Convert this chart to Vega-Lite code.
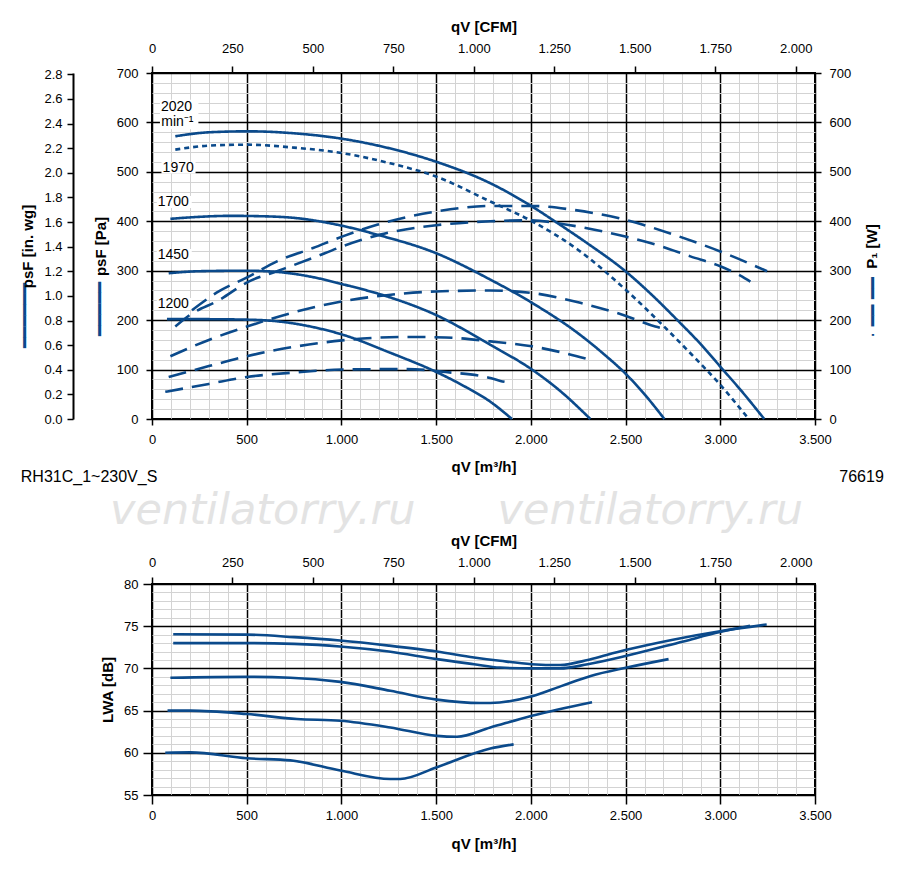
{
  "$schema": "https://vega.github.io/schema/vega-lite/v6.json",
  "description": "Fan curves RH31C: static pressure, power input and sound power level over air flow.",
  "padding": {"left": 15, "top": 18, "right": 5, "bottom": 5},
  "spacing": 4,
  "config": {
    "font": "Liberation Sans",
    "view": {"stroke": "#000", "strokeWidth": 2},
    "axis": {
      "labelFont": "Liberation Sans", "labelFontSize": 13, "labelColor": "#000",
      "titleFont": "Liberation Sans", "titleFontSize": 15, "titleColor": "#000", "titleFontWeight": "bold",
      "tickColor": "#000", "tickWidth": 1.5, "domainColor": "#000", "domainWidth": 2,
      "labelFlush": false, "labelOverlap": false
    },
    "line": {"color": "#0b4a8b", "strokeWidth": 2.6, "interpolate": "monotone"},
    "title": {"font": "DejaVu Sans"}
  },
  "datasets": {
    "pressure": [
      {"rpm": "2020", "s": "solid", "q": 123, "p": 572}, {"rpm": "2020", "s": "solid", "q": 300, "p": 580},
      {"rpm": "2020", "s": "solid", "q": 508, "p": 582}, {"rpm": "2020", "s": "solid", "q": 750, "p": 578},
      {"rpm": "2020", "s": "solid", "q": 1003, "p": 567}, {"rpm": "2020", "s": "solid", "q": 1250, "p": 548},
      {"rpm": "2020", "s": "solid", "q": 1496, "p": 521}, {"rpm": "2020", "s": "solid", "q": 1786, "p": 477},
      {"rpm": "2020", "s": "solid", "q": 2006, "p": 430}, {"rpm": "2020", "s": "solid", "q": 2138, "p": 397},
      {"rpm": "2020", "s": "solid", "q": 2300, "p": 355}, {"rpm": "2020", "s": "solid", "q": 2499, "p": 299},
      {"rpm": "2020", "s": "solid", "q": 2650, "p": 247}, {"rpm": "2020", "s": "solid", "q": 2771, "p": 201},
      {"rpm": "2020", "s": "solid", "q": 2900, "p": 150}, {"rpm": "2020", "s": "solid", "q": 3000, "p": 106},
      {"rpm": "2020", "s": "solid", "q": 3120, "p": 53}, {"rpm": "2020", "s": "solid", "q": 3232, "p": 0},
      {"rpm": "1970", "s": "dotted", "q": 123, "p": 545}, {"rpm": "1970", "s": "dotted", "q": 300, "p": 553},
      {"rpm": "1970", "s": "dotted", "q": 501, "p": 555}, {"rpm": "1970", "s": "dotted", "q": 750, "p": 549},
      {"rpm": "1970", "s": "dotted", "q": 1003, "p": 538}, {"rpm": "1970", "s": "dotted", "q": 1250, "p": 518},
      {"rpm": "1970", "s": "dotted", "q": 1496, "p": 491}, {"rpm": "1970", "s": "dotted", "q": 1786, "p": 440},
      {"rpm": "1970", "s": "dotted", "q": 2006, "p": 400}, {"rpm": "1970", "s": "dotted", "q": 2250, "p": 342},
      {"rpm": "1970", "s": "dotted", "q": 2499, "p": 262}, {"rpm": "1970", "s": "dotted", "q": 2719, "p": 181},
      {"rpm": "1970", "s": "dotted", "q": 2850, "p": 130}, {"rpm": "1970", "s": "dotted", "q": 2991, "p": 73},
      {"rpm": "1970", "s": "dotted", "q": 3150, "p": 0},
      {"rpm": "1700", "s": "solid", "q": 97, "p": 405}, {"rpm": "1700", "s": "solid", "q": 250, "p": 409},
      {"rpm": "1700", "s": "solid", "q": 413, "p": 411}, {"rpm": "1700", "s": "solid", "q": 600, "p": 410},
      {"rpm": "1700", "s": "solid", "q": 747, "p": 407}, {"rpm": "1700", "s": "solid", "q": 1003, "p": 391},
      {"rpm": "1700", "s": "solid", "q": 1188, "p": 373}, {"rpm": "1700", "s": "solid", "q": 1496, "p": 336},
      {"rpm": "1700", "s": "solid", "q": 1786, "p": 282}, {"rpm": "1700", "s": "solid", "q": 2006, "p": 235},
      {"rpm": "1700", "s": "solid", "q": 2261, "p": 170}, {"rpm": "1700", "s": "solid", "q": 2380, "p": 133},
      {"rpm": "1700", "s": "solid", "q": 2499, "p": 92},
      {"rpm": "1700", "s": "solid", "q": 2600, "p": 50}, {"rpm": "1700", "s": "solid", "q": 2705, "p": 0},
      {"rpm": "1450", "s": "solid", "q": 88, "p": 295}, {"rpm": "1450", "s": "solid", "q": 250, "p": 299},
      {"rpm": "1450", "s": "solid", "q": 501, "p": 300}, {"rpm": "1450", "s": "solid", "q": 677, "p": 297},
      {"rpm": "1450", "s": "solid", "q": 850, "p": 287}, {"rpm": "1450", "s": "solid", "q": 1003, "p": 273},
      {"rpm": "1450", "s": "solid", "q": 1241, "p": 248}, {"rpm": "1450", "s": "solid", "q": 1496, "p": 211},
      {"rpm": "1450", "s": "solid", "q": 1786, "p": 150}, {"rpm": "1450", "s": "solid", "q": 2006, "p": 100},
      {"rpm": "1450", "s": "solid", "q": 2160, "p": 55}, {"rpm": "1450", "s": "solid", "q": 2314, "p": 0},
      {"rpm": "1200", "s": "solid", "q": 79, "p": 202}, {"rpm": "1200", "s": "solid", "q": 250, "p": 202},
      {"rpm": "1200", "s": "solid", "q": 501, "p": 201}, {"rpm": "1200", "s": "solid", "q": 677, "p": 197},
      {"rpm": "1200", "s": "solid", "q": 850, "p": 186}, {"rpm": "1200", "s": "solid", "q": 1003, "p": 171},
      {"rpm": "1200", "s": "solid", "q": 1258, "p": 134}, {"rpm": "1200", "s": "solid", "q": 1496, "p": 96},
      {"rpm": "1200", "s": "solid", "q": 1650, "p": 66}, {"rpm": "1200", "s": "solid", "q": 1786, "p": 35},
      {"rpm": "1200", "s": "solid", "q": 1900, "p": 0}
    ],
    "power": [
      {"rpm": "2020", "q": 211, "w": 220}, {"rpm": "2020", "q": 343, "w": 256}, {"rpm": "2020", "q": 510, "w": 288},
      {"rpm": "2020", "q": 660, "w": 319}, {"rpm": "2020", "q": 850, "w": 346}, {"rpm": "2020", "q": 1003, "w": 369},
      {"rpm": "2020", "q": 1188, "w": 393}, {"rpm": "2020", "q": 1504, "w": 420}, {"rpm": "2020", "q": 1786, "w": 431},
      {"rpm": "2020", "q": 2006, "w": 431}, {"rpm": "2020", "q": 2226, "w": 423}, {"rpm": "2020", "q": 2499, "w": 403},
      {"rpm": "2020", "q": 2754, "w": 373}, {"rpm": "2020", "q": 3000, "w": 339}, {"rpm": "2020", "q": 3247, "w": 299},
      {"rpm": "1970", "q": 123, "w": 187}, {"rpm": "1970", "q": 202, "w": 211}, {"rpm": "1970", "q": 352, "w": 240},
      {"rpm": "1970", "q": 510, "w": 278}, {"rpm": "1970", "q": 660, "w": 299}, {"rpm": "1970", "q": 850, "w": 326},
      {"rpm": "1970", "q": 1003, "w": 349}, {"rpm": "1970", "q": 1205, "w": 373}, {"rpm": "1970", "q": 1500, "w": 392},
      {"rpm": "1970", "q": 1786, "w": 400}, {"rpm": "1970", "q": 1997, "w": 402}, {"rpm": "1970", "q": 2191, "w": 393},
      {"rpm": "1970", "q": 2499, "w": 369}, {"rpm": "1970", "q": 2683, "w": 350}, {"rpm": "1970", "q": 2842, "w": 329},
      {"rpm": "1970", "q": 3000, "w": 309}, {"rpm": "1970", "q": 3106, "w": 290}, {"rpm": "1970", "q": 3159, "w": 278},
      {"rpm": "1700", "q": 97, "w": 127}, {"rpm": "1700", "q": 300, "w": 160}, {"rpm": "1700", "q": 501, "w": 187},
      {"rpm": "1700", "q": 750, "w": 216}, {"rpm": "1700", "q": 1003, "w": 238}, {"rpm": "1700", "q": 1250, "w": 251},
      {"rpm": "1700", "q": 1496, "w": 258}, {"rpm": "1700", "q": 1786, "w": 260}, {"rpm": "1700", "q": 2006, "w": 255},
      {"rpm": "1700", "q": 2261, "w": 235}, {"rpm": "1700", "q": 2499, "w": 209}, {"rpm": "1700", "q": 2657, "w": 187},
      {"rpm": "1700", "q": 2719, "w": 181},
      {"rpm": "1450", "q": 88, "w": 85}, {"rpm": "1450", "q": 300, "w": 107}, {"rpm": "1450", "q": 501, "w": 127},
      {"rpm": "1450", "q": 750, "w": 146}, {"rpm": "1450", "q": 1003, "w": 159}, {"rpm": "1450", "q": 1346, "w": 166},
      {"rpm": "1450", "q": 1550, "w": 165}, {"rpm": "1450", "q": 1786, "w": 157}, {"rpm": "1450", "q": 2006, "w": 147},
      {"rpm": "1450", "q": 2160, "w": 135}, {"rpm": "1450", "q": 2314, "w": 120},
      {"rpm": "1200", "q": 70, "w": 55}, {"rpm": "1200", "q": 300, "w": 71}, {"rpm": "1200", "q": 501, "w": 85},
      {"rpm": "1200", "q": 750, "w": 94}, {"rpm": "1200", "q": 1003, "w": 100}, {"rpm": "1200", "q": 1346, "w": 101},
      {"rpm": "1200", "q": 1550, "w": 95}, {"rpm": "1200", "q": 1786, "w": 83}, {"rpm": "1200", "q": 1839, "w": 77},
      {"rpm": "1200", "q": 1900, "w": 73}
    ],
    "sound": [
      {"rpm": "2020", "q": 112, "L": 74.05}, {"rpm": "2020", "q": 500, "L": 74.0}, {"rpm": "2020", "q": 750, "L": 73.7},
      {"rpm": "2020", "q": 992, "L": 73.3}, {"rpm": "2020", "q": 1250, "L": 72.7}, {"rpm": "2020", "q": 1503, "L": 72.0},
      {"rpm": "2020", "q": 1700, "L": 71.3}, {"rpm": "2020", "q": 1837, "L": 70.9}, {"rpm": "2020", "q": 2004, "L": 70.5},
      {"rpm": "2020", "q": 2154, "L": 70.4}, {"rpm": "2020", "q": 2300, "L": 71.0}, {"rpm": "2020", "q": 2400, "L": 71.6},
      {"rpm": "2020", "q": 2505, "L": 72.2}, {"rpm": "2020", "q": 2750, "L": 73.4}, {"rpm": "2020", "q": 2998, "L": 74.4},
      {"rpm": "2020", "q": 3245, "L": 75.2},
      {"rpm": "1970", "q": 112, "L": 73.0}, {"rpm": "1970", "q": 500, "L": 73.0}, {"rpm": "1970", "q": 750, "L": 72.9},
      {"rpm": "1970", "q": 992, "L": 72.6}, {"rpm": "1970", "q": 1250, "L": 72.0}, {"rpm": "1970", "q": 1503, "L": 71.1},
      {"rpm": "1970", "q": 1700, "L": 70.5}, {"rpm": "1970", "q": 1837, "L": 70.1}, {"rpm": "1970", "q": 2004, "L": 70.0},
      {"rpm": "1970", "q": 2154, "L": 70.0}, {"rpm": "1970", "q": 2300, "L": 70.5}, {"rpm": "1970", "q": 2505, "L": 71.5},
      {"rpm": "1970", "q": 2805, "L": 73.2}, {"rpm": "1970", "q": 2998, "L": 74.3}, {"rpm": "1970", "q": 3157, "L": 75.05},
      {"rpm": "1700", "q": 97, "L": 68.9}, {"rpm": "1700", "q": 501, "L": 69.0}, {"rpm": "1700", "q": 730, "L": 68.9},
      {"rpm": "1700", "q": 994, "L": 68.4}, {"rpm": "1700", "q": 1258, "L": 67.35}, {"rpm": "1700", "q": 1504, "L": 66.3},
      {"rpm": "1700", "q": 1733, "L": 65.9}, {"rpm": "1700", "q": 1786, "L": 65.9}, {"rpm": "1700", "q": 2006, "L": 66.7},
      {"rpm": "1700", "q": 2160, "L": 67.9}, {"rpm": "1700", "q": 2316, "L": 69.1}, {"rpm": "1700", "q": 2507, "L": 70.1},
      {"rpm": "1700", "q": 2727, "L": 71.1},
      {"rpm": "1450", "q": 82, "L": 65.0}, {"rpm": "1450", "q": 202, "L": 65.0}, {"rpm": "1450", "q": 501, "L": 64.6},
      {"rpm": "1450", "q": 765, "L": 64.0}, {"rpm": "1450", "q": 994, "L": 63.8}, {"rpm": "1450", "q": 1258, "L": 63.0},
      {"rpm": "1450", "q": 1504, "L": 62.0}, {"rpm": "1450", "q": 1610, "L": 61.9}, {"rpm": "1450", "q": 1786, "L": 63.0},
      {"rpm": "1450", "q": 2006, "L": 64.4}, {"rpm": "1450", "q": 2323, "L": 66.0},
      {"rpm": "1200", "q": 70, "L": 60.0}, {"rpm": "1200", "q": 202, "L": 60.05}, {"rpm": "1200", "q": 501, "L": 59.35},
      {"rpm": "1200", "q": 730, "L": 59.1}, {"rpm": "1200", "q": 994, "L": 57.9}, {"rpm": "1200", "q": 1258, "L": 56.9},
      {"rpm": "1200", "q": 1310, "L": 56.9}, {"rpm": "1200", "q": 1504, "L": 58.3}, {"rpm": "1200", "q": 1786, "L": 60.5},
      {"rpm": "1200", "q": 1909, "L": 61.0}
    ],
    "labels": [
      {"t": "2020", "q": 47, "p": 632}, {"t": "min⁻¹", "q": 49, "p": 600}, {"t": "1970", "q": 56, "p": 508},
      {"t": "1700", "q": 30, "p": 439}, {"t": "1450", "q": 30, "p": 332}, {"t": "1200", "q": 30, "p": 233}
    ],
    "boxes": [
      {"q1": 42, "q2": 245, "p1": 586, "p2": 646}, {"q1": 50, "q2": 230, "p1": 496, "p2": 520},
      {"q1": 25, "q2": 210, "p1": 427, "p2": 451}, {"q1": 25, "q2": 210, "p1": 320, "p2": 344},
      {"q1": 25, "q2": 210, "p1": 221, "p2": 245}
    ],
    "ranges": [
      {"q": 0, "cfm": 0, "pa": 0, "inwg": 0, "L": 55},
      {"q": 3500, "cfm": 2060, "pa": 700, "inwg": 2.81, "L": 80}
    ]
  },
  "vconcat": [
    {
      "width": 663,
      "height": 346,
      "resolve": {"scale": {"x": "independent", "y": "independent"}},
      "layer": [
        {
          "data": {"name": "boxes"},
          "mark": {"type": "rect", "fill": "white"},
          "encoding": {
            "x": {"field": "q1", "type": "quantitative", "scale": {"domain": [0, 3500], "nice": false},
                  "axis": {"orient": "bottom", "labels": false, "ticks": false, "domain": false, "grid": false,
                           "title": "RH31C_1~230V_S", "titleX": -131.7, "titleY": 57, "titleAlign": "left",
                           "titleBaseline": "middle", "titleFontWeight": "normal", "titleFontSize": 16}},
            "x2": {"field": "q2"},
            "y": {"field": "p1", "type": "quantitative", "scale": {"domain": [0, 700], "nice": false}, "axis": null},
            "y2": {"field": "p2"}
          }
        },
        {
          "data": {"name": "labels"},
          "mark": {"type": "text", "align": "left", "baseline": "middle", "fontSize": 14, "color": "#000"},
          "encoding": {
            "x": {"field": "q", "type": "quantitative", "scale": {"domain": [0, 3500], "nice": false},
                  "axis": {"orient": "bottom", "labels": false, "ticks": false, "domain": false, "grid": false,
                           "title": "76619", "titleX": 731.3, "titleY": 57, "titleAlign": "right",
                           "titleBaseline": "middle", "titleFontWeight": "normal", "titleFontSize": 16}},
            "y": {"field": "p", "type": "quantitative", "scale": {"domain": [0, 700], "nice": false}, "axis": null},
            "text": {"field": "t"}
          }
        },
        {
          "data": {"name": "pressure"},
          "mark": {"type": "line"},
          "encoding": {
            "x": {"field": "q", "type": "quantitative", "scale": {"domain": [0, 3500], "nice": false},
                  "axis": {"orient": "bottom", "labels": false, "ticks": false, "domain": false,
                           "grid": true, "gridColor": "#d3d3d3", "gridWidth": 1,
                           "values": [100, 200, 300, 400, 600, 700, 800, 900, 1100, 1200, 1300, 1400, 1600, 1700, 1800, 1900, 2100, 2200, 2300, 2400, 2600, 2700, 2800, 2900, 3100, 3200, 3300, 3400],
                           "title": "━━━━━━", "titleX": -126.7, "titleY": -104, "titleAngle": 270,
                           "titleAlign": "center", "titleBaseline": "middle", "titleFont": "DejaVu Sans",
                           "titleFontWeight": "normal", "titleFontSize": 18, "titleColor": "#0b4a8b"}},
            "y": {"field": "p", "type": "quantitative", "scale": {"domain": [0, 700], "nice": false},
                  "axis": {"orient": "left", "labels": false, "ticks": false, "domain": false,
                           "grid": true, "gridColor": "#d3d3d3", "gridWidth": 1,
                           "values": [20, 40, 60, 80, 120, 140, 160, 180, 220, 240, 260, 280, 320, 340, 360, 380, 420, 440, 460, 480, 520, 540, 560, 580, 620, 640, 660, 680],
                           "title": "━━━━━", "titleX": -51.7, "titleY": 235.5, "titleAngle": 270,
                           "titleAlign": "center", "titleBaseline": "middle", "titleFont": "DejaVu Sans",
                           "titleFontWeight": "normal", "titleFontSize": 18, "titleColor": "#0b4a8b"}},
            "detail": {"field": "rpm", "type": "nominal"},
            "strokeDash": {"field": "s", "type": "nominal",
                           "scale": {"domain": ["solid", "dotted"], "range": [[1, 0], [5, 4]]}, "legend": null}
          }
        },
        {
          "data": {"name": "power"},
          "mark": {"type": "line", "strokeDash": [18, 9]},
          "encoding": {
            "x": {"field": "q", "type": "quantitative", "scale": {"domain": [0, 3500], "nice": false},
                  "axis": {"orient": "bottom", "grid": true, "gridColor": "#000", "gridWidth": 1.5, "domain": false,
                           "values": [0, 500, 1000, 1500, 2000, 2500, 3000, 3500],
                           "labelExpr": "replace(format(datum.value, ','), ',', '.')",
                           "tickSize": 6, "labelPadding": 8, "title": "qV [m³/h]", "titlePadding": 13}},
            "y": {"field": "w", "type": "quantitative", "scale": {"domain": [0, 700], "nice": false},
                  "axis": {"orient": "right", "grid": true, "gridColor": "#000", "gridWidth": 1.5, "domain": false,
                           "values": [0, 100, 200, 300, 400, 500, 600, 700],
                           "tickSize": 6, "labelPadding": 8, "title": "P₁ [W]", "titleAngle": 270,
                           "titleBaseline": "top", "titlePadding": 14}},
            "detail": {"field": "rpm", "type": "nominal"}
          }
        },
        {
          "data": {"name": "ranges"},
          "mark": {"type": "point", "opacity": 0},
          "encoding": {
            "x": {"field": "cfm", "type": "quantitative", "scale": {"domain": [0, 2060], "nice": false},
                  "axis": {"orient": "top", "grid": false, "domain": false,
                           "values": [0, 250, 500, 750, 1000, 1250, 1500, 1750, 2000],
                           "labelExpr": "replace(format(datum.value, ','), ',', '.')",
                           "tickSize": 7, "labelPadding": 11, "title": "qV [CFM]", "titlePadding": 8}},
            "y": {"field": "pa", "type": "quantitative", "scale": {"domain": [0, 700], "nice": false},
                  "axis": {"orient": "left", "grid": false, "domain": false,
                           "values": [0, 100, 200, 300, 400, 500, 600, 700],
                           "tickSize": 6, "labelPadding": 8, "title": "psF [Pa]", "titlePadding": 8}}
          }
        },
        {
          "data": {"name": "ranges"},
          "mark": {"type": "point", "opacity": 0},
          "encoding": {
            "x": {"field": "cfm", "type": "quantitative", "scale": {"domain": [0, 2060], "nice": false},
                  "axis": {"orient": "bottom", "labels": false, "ticks": false, "domain": false, "grid": false,
                           "title": "· ━━ ━━", "titleX": 721.3, "titleY": -112, "titleAngle": 270,
                           "titleAlign": "center", "titleBaseline": "middle", "titleFont": "DejaVu Sans",
                           "titleFontWeight": "normal", "titleFontSize": 18, "titleColor": "#0b4a8b"}},
            "y": {"field": "inwg", "type": "quantitative", "scale": {"domain": [0, 2.8102], "nice": false},
                  "axis": {"orient": "left", "offset": 79, "grid": false, "domain": true, "format": ".1f",
                           "values": [0, 0.2, 0.4, 0.6, 0.8, 1.0, 1.2, 1.4, 1.6, 1.8, 2.0, 2.2, 2.4, 2.6, 2.8],
                           "tickSize": 6, "labelPadding": 5, "title": "psF [in. wg]", "titlePadding": 8}}
          }
        }
      ]
    },
    {
      "width": 663,
      "height": 211,
      "title": {"text": "ventilatorry.ru\u00a0\u00a0\u00a0\u00a0\u00a0\u00a0ventilatorry.ru", "font": "DejaVu Sans", "fontSize": 43,
                "fontStyle": "italic", "fontWeight": "normal", "color": "#e3e3e3", "anchor": "middle", "offset": 0, "dx": -27},
      "resolve": {"scale": {"x": "independent", "y": "independent"}},
      "layer": [
        {
          "data": {"name": "sound"},
          "mark": {"type": "line"},
          "encoding": {
            "x": {"field": "q", "type": "quantitative", "scale": {"domain": [0, 3500], "nice": false},
                  "axis": {"orient": "bottom", "labels": false, "ticks": false, "domain": false, "title": null,
                           "grid": true, "gridColor": "#d3d3d3", "gridWidth": 1,
                           "values": [100, 200, 300, 400, 600, 700, 800, 900, 1100, 1200, 1300, 1400, 1600, 1700, 1800, 1900, 2100, 2200, 2300, 2400, 2600, 2700, 2800, 2900, 3100, 3200, 3300, 3400]}},
            "y": {"field": "L", "type": "quantitative", "scale": {"domain": [55, 80], "nice": false, "zero": false},
                  "axis": {"orient": "left", "labels": false, "ticks": false, "domain": false, "title": null,
                           "grid": true, "gridColor": "#d3d3d3", "gridWidth": 1,
                           "values": [56, 57, 58, 59, 61, 62, 63, 64, 66, 67, 68, 69, 71, 72, 73, 74, 76, 77, 78, 79]}},
            "detail": {"field": "rpm", "type": "nominal"}
          }
        },
        {
          "data": {"name": "ranges"},
          "mark": {"type": "point", "opacity": 0},
          "encoding": {
            "x": {"field": "q", "type": "quantitative", "scale": {"domain": [0, 3500], "nice": false},
                  "axis": {"orient": "bottom", "grid": true, "gridColor": "#000", "gridWidth": 1.5, "domain": false,
                           "values": [0, 500, 1000, 1500, 2000, 2500, 3000, 3500],
                           "labelExpr": "replace(format(datum.value, ','), ',', '.')",
                           "tickSize": 9, "labelPadding": 5, "title": "qV [m³/h]", "titlePadding": 14}},
            "y": {"field": "L", "type": "quantitative", "scale": {"domain": [55, 80], "nice": false, "zero": false},
                  "axis": {"orient": "left", "grid": true, "gridColor": "#000", "gridWidth": 1.5, "domain": false,
                           "values": [55, 60, 65, 70, 75, 80],
                           "tickSize": 9, "labelPadding": 5, "title": "LWA [dB]", "titlePadding": 8}}
          }
        },
        {
          "data": {"name": "ranges"},
          "mark": {"type": "point", "opacity": 0},
          "encoding": {
            "x": {"field": "cfm", "type": "quantitative", "scale": {"domain": [0, 2060], "nice": false},
                  "axis": {"orient": "top", "grid": false, "domain": false,
                           "values": [0, 250, 500, 750, 1000, 1250, 1500, 1750, 2000],
                           "labelExpr": "replace(format(datum.value, ','), ',', '.')",
                           "tickSize": 7, "labelPadding": 8, "title": "qV [CFM]", "titlePadding": 8}}
          }
        }
      ]
    }
  ]
}
